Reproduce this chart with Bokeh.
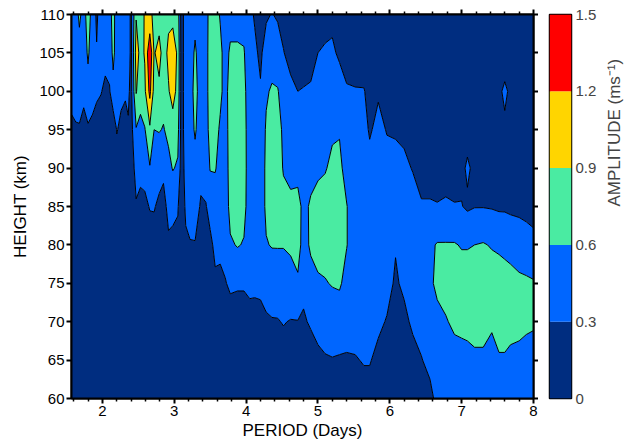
import math
import numpy as np
from bokeh.plotting import figure
from bokeh.models import LinearAxis, FixedTicker, Range1d
from bokeh.layouts import row
from bokeh.embed import file_html
from bokeh.resources import INLINE

# ---- data ----
heights = [60, 65, 70, 75, 80, 85, 90, 95, 100, 105, 110]

periods = [1.57, 1.63, 1.68, 1.74, 1.80, 1.86, 1.92, 1.98, 2.04, 2.10,
           2.15, 2.20, 2.26, 2.32, 2.36, 2.40, 2.47, 2.53, 2.59, 2.66,
           2.72, 2.79, 2.85, 2.92, 2.98, 3.05, 3.10, 3.16, 3.22, 3.29,
           3.37, 3.44, 3.50, 3.57, 3.64, 3.71, 3.78, 3.88, 3.97, 4.05,
           4.12, 4.20, 4.28, 4.36, 4.44, 4.52, 4.62, 4.72, 4.80, 4.90,
           5.00, 5.10, 5.20, 5.30, 5.40, 5.52, 5.64, 5.72, 5.84, 5.96,
           6.08, 6.20, 6.32, 6.44, 6.56, 6.66, 6.78, 6.90, 7.00, 7.08,
           7.18, 7.30, 7.42, 7.52, 7.60, 7.68, 7.80, 7.90, 8.00]

# amplitude (m/s) profile for each period, heights 60 -> 110 km
amplitude = [
    [0.10, 0.10, 0.12, 0.12, 0.14, 0.16, 0.20, 0.26, 0.36, 0.42, 0.45],  # 1.57
    [0.10, 0.10, 0.12, 0.13, 0.15, 0.17, 0.21, 0.28, 0.38, 0.45, 0.50],  # 1.63
    [0.10, 0.11, 0.12, 0.13, 0.15, 0.17, 0.21, 0.28, 0.40, 0.50, 0.65],  # 1.68
    [0.10, 0.11, 0.12, 0.13, 0.15, 0.17, 0.19, 0.22, 0.36, 0.45, 0.50],  # 1.74
    [0.10, 0.11, 0.12, 0.13, 0.15, 0.17, 0.20, 0.26, 0.50, 0.64, 0.72],  # 1.80
    [0.10, 0.11, 0.12, 0.13, 0.15, 0.17, 0.20, 0.25, 0.38, 0.45, 0.50],  # 1.86
    [0.10, 0.11, 0.12, 0.13, 0.15, 0.16, 0.18, 0.20, 0.34, 0.32, 0.25],  # 1.92
    [0.10, 0.11, 0.12, 0.13, 0.14, 0.16, 0.18, 0.20, 0.31, 0.42, 0.45],  # 1.98
    [0.10, 0.10, 0.11, 0.12, 0.13, 0.14, 0.15, 0.15, 0.26, 0.36, 0.42],  # 2.04
    [0.10, 0.10, 0.11, 0.12, 0.13, 0.14, 0.16, 0.20, 0.28, 0.40, 0.50],  # 2.10
    [0.10, 0.10, 0.11, 0.12, 0.13, 0.14, 0.14, 0.10, 0.50, 0.68, 0.70],  # 2.15
    [0.10, 0.10, 0.11, 0.12, 0.14, 0.18, 0.22, 0.31, 0.40, 0.45, 0.45],  # 2.20
    [0.10, 0.10, 0.11, 0.12, 0.14, 0.17, 0.21, 0.26, 0.34, 0.42, 0.45],  # 2.26
    [0.10, 0.10, 0.11, 0.12, 0.14, 0.17, 0.20, 0.24, 0.32, 0.42, 0.45],  # 2.32
    [0.10, 0.10, 0.11, 0.12, 0.14, 0.17, 0.21, 0.27, 0.35, 0.42, 0.42],  # 2.36
    [0.10, 0.10, 0.11, 0.12, 0.14, 0.16, 0.18, 0.20, 0.22, 0.24, 0.24],  # 2.40
    [0.10, 0.11, 0.12, 0.14, 0.18, 0.28, 0.38, 0.58, 0.92, 1.02, 0.88],  # 2.47
    [0.10, 0.11, 0.12, 0.14, 0.18, 0.27, 0.33, 0.52, 0.72, 0.82, 0.80],  # 2.53
    [0.10, 0.11, 0.12, 0.14, 0.18, 0.26, 0.36, 0.58, 0.85, 0.92, 0.92],  # 2.59
    [0.10, 0.11, 0.13, 0.16, 0.22, 0.31, 0.58, 0.85, 1.28, 1.45, 0.95],  # 2.66
    [0.10, 0.11, 0.13, 0.16, 0.24, 0.31, 0.42, 0.60, 0.80, 0.88, 0.85],  # 2.72
    [0.10, 0.11, 0.13, 0.16, 0.21, 0.27, 0.36, 0.62, 0.85, 0.98, 0.80],  # 2.79
    [0.10, 0.11, 0.12, 0.15, 0.19, 0.24, 0.34, 0.58, 0.72, 0.80, 0.80],  # 2.85
    [0.10, 0.11, 0.13, 0.20, 0.27, 0.35, 0.50, 0.68, 0.88, 0.95, 0.85],  # 2.92
    [0.10, 0.11, 0.14, 0.20, 0.26, 0.34, 0.62, 0.78, 1.00, 1.05, 0.82],  # 2.98
    [0.10, 0.11, 0.14, 0.19, 0.24, 0.32, 0.56, 0.70, 0.82, 0.85, 0.75],  # 3.05
    [0.10, 0.10, 0.12, 0.13, 0.14, 0.15, 0.16, 0.17, 0.17, 0.17, 0.17],  # 3.10
    [0.10, 0.11, 0.14, 0.20, 0.26, 0.34, 0.40, 0.44, 0.45, 0.45, 0.45],  # 3.16
    [0.10, 0.11, 0.15, 0.22, 0.29, 0.36, 0.42, 0.45, 0.46, 0.46, 0.45],  # 3.22
    [0.10, 0.11, 0.15, 0.22, 0.29, 0.38, 0.48, 0.64, 0.70, 0.64, 0.52],  # 3.29
    [0.10, 0.11, 0.13, 0.17, 0.22, 0.28, 0.35, 0.42, 0.45, 0.45, 0.45],  # 3.37
    [0.10, 0.11, 0.13, 0.17, 0.22, 0.29, 0.38, 0.48, 0.50, 0.50, 0.50],  # 3.44
    [0.10, 0.11, 0.14, 0.19, 0.26, 0.36, 0.62, 0.70, 0.72, 0.72, 0.70],  # 3.50
    [0.10, 0.12, 0.17, 0.27, 0.34, 0.45, 0.62, 0.70, 0.72, 0.72, 0.70],  # 3.57
    [0.10, 0.13, 0.19, 0.27, 0.33, 0.40, 0.50, 0.56, 0.66, 0.66, 0.58],  # 3.64
    [0.11, 0.15, 0.22, 0.29, 0.36, 0.42, 0.45, 0.48, 0.50, 0.50, 0.45],  # 3.71
    [0.11, 0.15, 0.22, 0.33, 0.56, 0.70, 0.72, 0.72, 0.72, 0.64, 0.50],  # 3.78
    [0.11, 0.15, 0.22, 0.32, 0.62, 0.72, 0.74, 0.74, 0.72, 0.64, 0.50],  # 3.88
    [0.11, 0.15, 0.22, 0.32, 0.58, 0.68, 0.70, 0.70, 0.68, 0.62, 0.50],  # 3.97
    [0.11, 0.16, 0.24, 0.34, 0.40, 0.45, 0.45, 0.44, 0.42, 0.40, 0.35],  # 4.05
    [0.12, 0.17, 0.25, 0.33, 0.40, 0.42, 0.42, 0.40, 0.38, 0.34, 0.28],  # 4.12
    [0.12, 0.18, 0.26, 0.33, 0.40, 0.42, 0.42, 0.38, 0.32, 0.26, 0.22],  # 4.20
    [0.13, 0.19, 0.28, 0.36, 0.58, 0.66, 0.66, 0.64, 0.56, 0.40, 0.27],  # 4.28
    [0.14, 0.20, 0.29, 0.38, 0.62, 0.70, 0.72, 0.70, 0.64, 0.45, 0.31],  # 4.36
    [0.14, 0.21, 0.29, 0.40, 0.62, 0.70, 0.72, 0.70, 0.62, 0.42, 0.27],  # 4.44
    [0.15, 0.22, 0.31, 0.40, 0.62, 0.68, 0.58, 0.55, 0.45, 0.31, 0.22],  # 4.52
    [0.15, 0.22, 0.29, 0.45, 0.66, 0.68, 0.50, 0.45, 0.36, 0.22, 0.15],  # 4.62
    [0.15, 0.22, 0.29, 0.56, 0.70, 0.70, 0.50, 0.40, 0.30, 0.20, 0.15],  # 4.72
    [0.15, 0.24, 0.28, 0.34, 0.50, 0.52, 0.45, 0.38, 0.31, 0.22, 0.15],  # 4.80
    [0.16, 0.22, 0.32, 0.50, 0.64, 0.64, 0.50, 0.40, 0.32, 0.24, 0.18],  # 4.90
    [0.17, 0.26, 0.36, 0.56, 0.70, 0.70, 0.55, 0.45, 0.38, 0.30, 0.22],  # 5.00
    [0.18, 0.28, 0.40, 0.58, 0.72, 0.72, 0.58, 0.50, 0.42, 0.32, 0.24],  # 5.10
    [0.20, 0.29, 0.42, 0.62, 0.74, 0.74, 0.66, 0.56, 0.45, 0.34, 0.24],  # 5.20
    [0.20, 0.28, 0.42, 0.64, 0.74, 0.72, 0.66, 0.58, 0.42, 0.26, 0.20],  # 5.30
    [0.22, 0.28, 0.38, 0.50, 0.61, 0.61, 0.50, 0.42, 0.32, 0.22, 0.16],  # 5.40
    [0.22, 0.29, 0.36, 0.42, 0.45, 0.45, 0.42, 0.38, 0.31, 0.22, 0.15],  # 5.52
    [0.24, 0.31, 0.38, 0.42, 0.44, 0.44, 0.40, 0.36, 0.31, 0.20, 0.14],  # 5.64
    [0.24, 0.31, 0.38, 0.42, 0.44, 0.42, 0.36, 0.28, 0.24, 0.20, 0.14],  # 5.72
    [0.20, 0.26, 0.33, 0.38, 0.42, 0.42, 0.40, 0.35, 0.28, 0.20, 0.14],  # 5.84
    [0.18, 0.24, 0.29, 0.35, 0.40, 0.42, 0.36, 0.29, 0.22, 0.16, 0.12],  # 5.96
    [0.15, 0.20, 0.24, 0.28, 0.31, 0.36, 0.36, 0.28, 0.20, 0.15, 0.12],  # 6.08
    [0.15, 0.20, 0.26, 0.33, 0.40, 0.40, 0.34, 0.26, 0.20, 0.15, 0.12],  # 6.20
    [0.18, 0.24, 0.33, 0.40, 0.43, 0.38, 0.29, 0.24, 0.20, 0.15, 0.12],  # 6.32
    [0.20, 0.29, 0.38, 0.45, 0.45, 0.32, 0.22, 0.18, 0.15, 0.12, 0.10],  # 6.44
    [0.24, 0.36, 0.45, 0.55, 0.55, 0.32, 0.22, 0.18, 0.15, 0.12, 0.10],  # 6.56
    [0.36, 0.42, 0.52, 0.66, 0.62, 0.31, 0.22, 0.18, 0.15, 0.12, 0.10],  # 6.66
    [0.38, 0.45, 0.58, 0.70, 0.62, 0.32, 0.24, 0.20, 0.16, 0.13, 0.10],  # 6.78
    [0.38, 0.50, 0.65, 0.72, 0.62, 0.31, 0.22, 0.18, 0.15, 0.12, 0.10],  # 6.90
    [0.40, 0.52, 0.66, 0.74, 0.58, 0.31, 0.24, 0.18, 0.15, 0.12, 0.10],  # 7.00
    [0.42, 0.54, 0.66, 0.74, 0.58, 0.26, 0.34, 0.20, 0.15, 0.12, 0.10],  # 7.08
    [0.42, 0.56, 0.68, 0.74, 0.60, 0.29, 0.24, 0.18, 0.15, 0.12, 0.10],  # 7.18
    [0.42, 0.56, 0.68, 0.76, 0.62, 0.29, 0.22, 0.18, 0.15, 0.12, 0.10],  # 7.30
    [0.42, 0.50, 0.64, 0.74, 0.58, 0.28, 0.22, 0.18, 0.15, 0.12, 0.10],  # 7.42
    [0.44, 0.58, 0.68, 0.72, 0.56, 0.26, 0.20, 0.18, 0.26, 0.14, 0.10],  # 7.52
    [0.44, 0.58, 0.68, 0.70, 0.54, 0.26, 0.18, 0.26, 0.34, 0.18, 0.12],  # 7.60
    [0.42, 0.56, 0.66, 0.68, 0.52, 0.24, 0.20, 0.18, 0.26, 0.14, 0.10],  # 7.68
    [0.42, 0.54, 0.66, 0.64, 0.50, 0.22, 0.18, 0.15, 0.13, 0.11, 0.10],  # 7.80
    [0.40, 0.52, 0.64, 0.63, 0.48, 0.18, 0.15, 0.13, 0.12, 0.11, 0.10],  # 7.90
    [0.40, 0.50, 0.63, 0.62, 0.42, 0.15, 0.13, 0.12, 0.11, 0.10, 0.10],  # 8.00
]

levels = [0.0, 0.3, 0.6, 0.9, 1.2, 1.5]
level_labels = ["0", "0.3", "0.6", "0.9", "1.2", "1.5"]
level_colors = ["#002D80", "#0066FF", "#4AEBA2", "#FFD500", "#FF0000"]

x_ticks = [2, 3, 4, 5, 6, 7, 8]
x_minor_ticks = [1.6, 1.8, 2.2, 2.4, 2.6, 2.8, 3.2, 3.4, 3.6, 3.8, 4.2, 4.4, 4.6, 4.8,
                 5.2, 5.4, 5.6, 5.8, 6.2, 6.4, 6.6, 6.8, 7.2, 7.4, 7.6, 7.8]
y_ticks = [60, 65, 70, 75, 80, 85, 90, 95, 100, 105, 110]

FONT = "Liberation Sans"

# ---- main contour panel ----
Z = np.array(amplitude).T
X, Y = np.meshgrid(periods, heights)

p = figure(frame_width=462, frame_height=384,
           x_range=Range1d(periods[0], periods[-1]), y_range=Range1d(heights[0], heights[-1]),
           output_backend="svg", toolbar_location=None,
           min_border_left=71, min_border_top=14, min_border_right=0, min_border_bottom=0)
p.contour(x=X, y=Y, z=Z, levels=levels, fill_color=level_colors,
          line_color="black", line_width=1)

p.grid.visible = False
p.outline_line_color = "black"
p.outline_line_width = 2
p.background_fill_color = "white"

xt = FixedTicker(ticks=x_ticks, minor_ticks=x_minor_ticks)
yt = FixedTicker(ticks=y_ticks, minor_ticks=[])

def style_axis(ax, labels=True):
    ax.axis_line_width = 2
    ax.axis_line_color = "black"
    ax.major_tick_line_width = 2
    ax.major_tick_out = 5
    ax.major_tick_in = 0
    ax.minor_tick_line_width = 1.5
    ax.minor_tick_out = 3
    ax.minor_tick_in = 0
    ax.major_label_text_font = FONT
    ax.axis_label_text_font = FONT
    ax.axis_label_text_font_style = "normal"
    ax.axis_label_text_color = "black"
    if labels:
        ax.major_label_text_font_size = "15px"
        ax.major_label_text_color = "black"
        ax.axis_label_text_font_size = "17px"
        ax.major_label_standoff = 2
        ax.axis_label_standoff = 2
    else:
        ax.major_label_text_font_size = "2px"
        ax.major_label_text_color = None
        ax.major_label_standoff = 0

p.xaxis.ticker = xt
p.yaxis.ticker = yt
p.xaxis.axis_label = "PERIOD (Days)"
p.yaxis.axis_label = "HEIGHT (km)"
for ax in p.xaxis + p.yaxis:
    style_axis(ax, True)
p.yaxis.axis_label_standoff = 6

top_ax = LinearAxis(ticker=xt)
style_axis(top_ax, False)
p.add_layout(top_ax, "above")
right_ax = LinearAxis(ticker=yt)
style_axis(right_ax, False)
p.add_layout(right_ax, "right")

# ---- colour bar panel ----
cb = figure(frame_width=22, frame_height=384,
            x_range=Range1d(0, 1), y_range=Range1d(levels[0], levels[-1]),
            output_backend="svg", toolbar_location=None,
            min_border_left=11, min_border_top=14, min_border_right=0, min_border_bottom=10)
cb.quad(left=0, right=1, bottom=levels[:-1], top=levels[1:],
        fill_color=level_colors, line_color=None)
cb.grid.visible = False
cb.xaxis.visible = False
cb.yaxis.visible = False
cb.outline_line_color = "black"
cb.outline_line_width = 1.5

cax = LinearAxis(ticker=FixedTicker(ticks=levels, minor_ticks=[]),
                 axis_label="AMPLITUDE (ms\u207b\u00b9)")
cax.major_label_overrides = {lv: lb for lv, lb in zip(levels, level_labels)}
cax.axis_line_color = None
cax.major_tick_line_color = None
cax.minor_tick_line_color = None
cax.major_tick_out = 0
cax.major_tick_in = 0
cax.major_label_text_font = FONT
cax.major_label_text_font_size = "15px"
cax.major_label_standoff = 4
cax.axis_label_text_font = FONT
cax.axis_label_text_font_size = "17px"
cax.axis_label_text_font_style = "normal"
cax.axis_label_standoff = 15
cax.axis_label_orientation = math.pi / 2
cb.add_layout(cax, "right")

layout = row(p, cb)
open("out.html", "w").write(file_html(layout, INLINE))
